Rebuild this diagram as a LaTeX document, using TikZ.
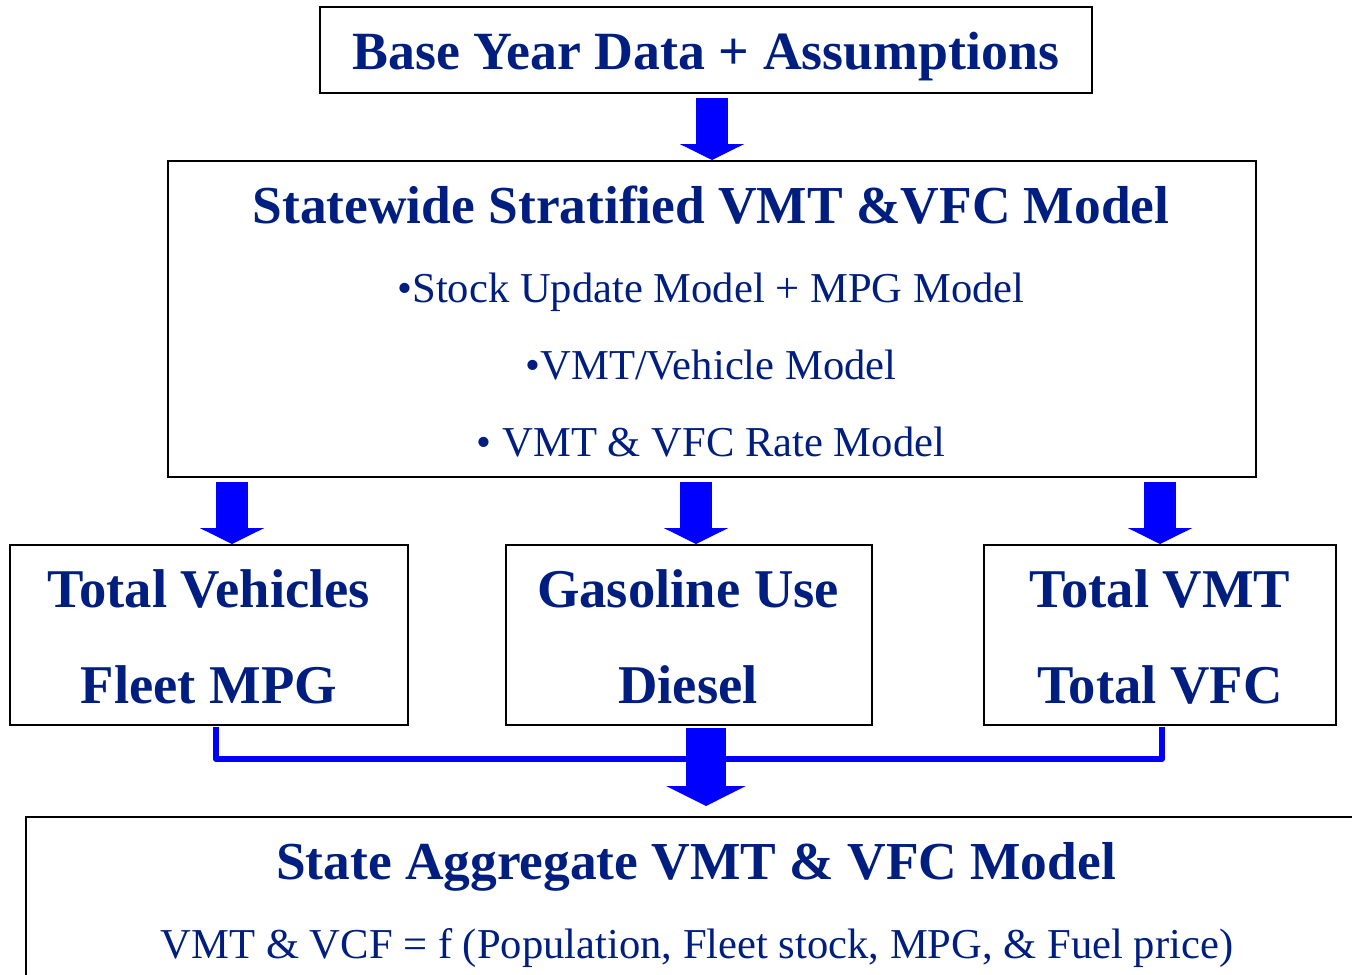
\documentclass[tikz,border=0pt]{standalone}
\usepackage{fontspec}
\setmainfont{Liberation Serif}
\usetikzlibrary{arrows.meta,calc}
\definecolor{ink}{RGB}{0,30,128}
\definecolor{flow}{RGB}{0,0,255}
\tikzset{
  box/.style={draw=black, line width=1pt, fill=none, inner sep=0pt},
  head/.style={font=\bfseries\fontsize{26.7}{30}\selectfont, text=ink, anchor=base, inner sep=0pt},
  cell/.style={font=\bfseries\fontsize{27.3}{30}\selectfont, text=ink, anchor=base, inner sep=0pt},
  item/.style={font=\fontsize{21.3}{25}\selectfont, text=ink, anchor=base, inner sep=0pt},
  feed/.style={draw=flow, line width=16pt, -{Triangle[width=32pt,length=8pt]}},
  bigfeed/.style={draw=flow, line width=20pt, -{Triangle[width=39.5pt,length=10pt]}},
  link/.style={draw=flow, line width=3pt, line join=round},
}
\begin{document}
\begin{tikzpicture}[x=0.5pt,y=-0.5pt]
\useasboundingbox (0,0) rectangle (1352,974);
\clip (0,0) rectangle (1352,974);

% boxes
\node[box, minimum width=386pt, minimum height=43pt] (top) at (706,50) {};
\node[box, minimum width=544pt, minimum height=158pt] (mid) at (712,319) {};
\node[box, minimum width=199pt, minimum height=90pt] (lft) at (209,635) {};
\node[box, minimum width=183pt, minimum height=90pt] (cen) at (689,635) {};
\node[box, minimum width=176pt, minimum height=90pt] (rgt) at (1160,635) {};
\node[box, minimum width=690pt, minimum height=100pt] (agg) at (716,917) {};

% texts
\node[head, font=\bfseries\fontsize{26.9}{30}\selectfont] (tTop) at (706,69) {Base Year Data + Assumptions};
\node[head] (tMid) at (711,223) {Statewide Stratified VMT \&VFC Model};
\node[item] (b1) at (711,302) {•Stock Update Model + MPG Model};
\node[item] (b2) at (711,379) {•VMT/Vehicle Model};
\node[item] (b3) at (711,456) {• VMT \& VFC Rate Model};
\node[cell] (l1) at (209,607) {Total Vehicles};
\node[cell] (l2) at (209,703) {Fleet MPG};
\node[cell] (c1) at (688,607) {Gasoline Use};
\node[cell] (c2) at (688,703) {Diesel};
\node[cell] (r1) at (1160,607) {Total VMT};
\node[cell] (r2) at (1160,703) {Total VFC};
\node[head] (tAgg) at (696,879) {State Aggregate VMT \& VFC Model};
\node[item] (fAgg) at (697,958) {VMT \& VCF = f (Population, Fleet stock, MPG, \& Fuel price)};

% block arrows
\draw[feed] ($(mid.north |- top.south)+(0,4)$) -- (mid.north);
\coordinate (aL) at ($(lft.north)+(23,0)$);
\coordinate (aC) at ($(cen.north)+(7,0)$);
\coordinate (aR) at (rgt.north);
\draw[feed] ($(aL |- mid.south)+(0,4)$) -- (aL);
\draw[feed] ($(aC |- mid.south)+(0,4)$) -- (aC);
\draw[feed] ($(aR |- mid.south)+(0,4)$) -- (aR);

% collector line and final arrow
\draw[link] ($(lft.south)+(7,1)$) |- ($(rgt.south)+(2,33)$) -- ($(rgt.south)+(2,1)$);
\coordinate (aB) at ($(cen.south)+(17,2)$);
\draw[bigfeed] (aB) -- ($(aB |- agg.north)+(0,-10)$);
\end{tikzpicture}
\end{document}
